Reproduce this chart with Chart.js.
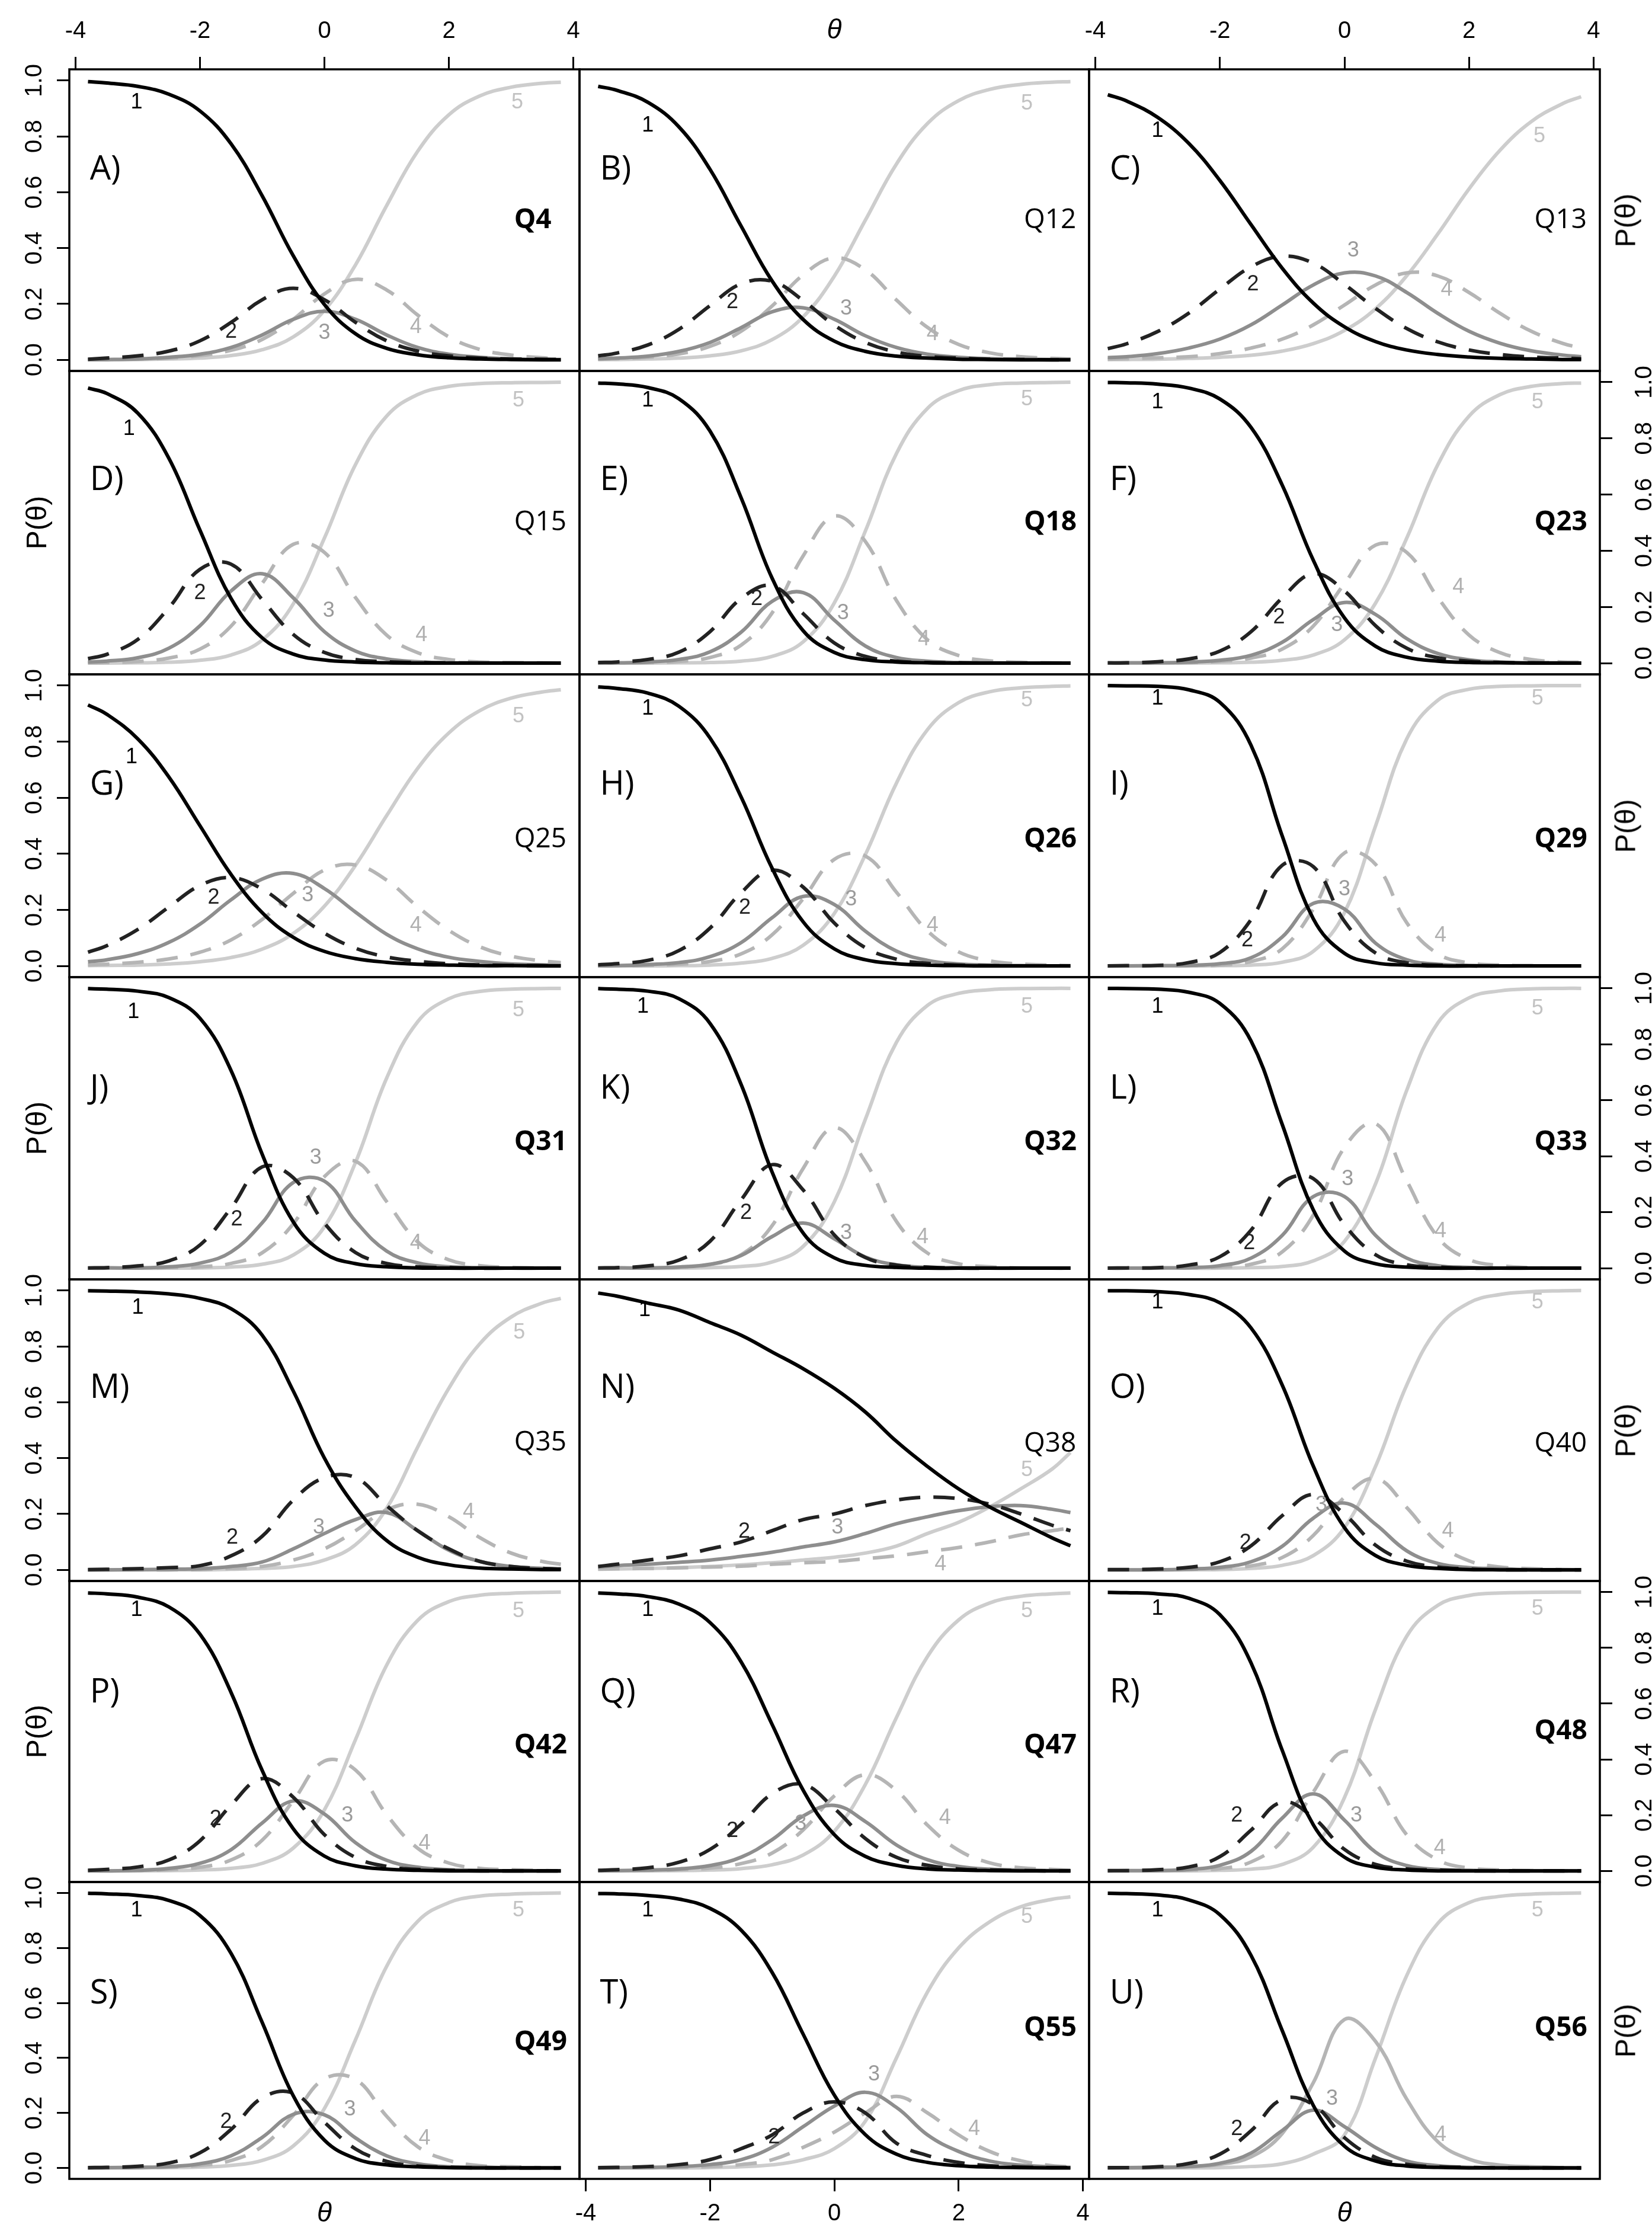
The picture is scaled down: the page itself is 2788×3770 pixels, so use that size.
<!DOCTYPE html>
<html>
<head>
<meta charset="utf-8">
<title>Category response curves</title>
<script src="https://cdn.jsdelivr.net/npm/chart.js@4.4.1/dist/chart.umd.min.js"></script>
<style>
  html, body { margin: 0; padding: 0; background: #fff; }
  body { position: relative; width: 2788px; height: 3770px; overflow: hidden; }
  canvas.panel { position: absolute; }
  .side-title {
    position: absolute; color: #000; white-space: nowrap;
    font: 48px "Liberation Sans", Arial, sans-serif;
    transform: translate(-50%, -50%) rotate(-90deg);
  }
</style>
</head>
<body>
<script>
var thetaGrid = [-3.8, -3.5, -3, -2.5, -2, -1.5, -1, -0.5, 0, 0.5, 1, 1.5, 2, 2.5, 3, 3.5, 3.8];
var categories = ['1', '2', '3', '4', '5'];
var panelLetters = ['A)', 'B)', 'C)', 'D)', 'E)', 'F)', 'G)', 'H)', 'I)', 'J)', 'K)', 'L)', 'M)', 'N)', 'O)', 'P)', 'Q)', 'R)', 'S)', 'T)', 'U)'];
var itemNames = ['Q4', 'Q12', 'Q13', 'Q15', 'Q18', 'Q23', 'Q25', 'Q26', 'Q29', 'Q31', 'Q32', 'Q33', 'Q35', 'Q38', 'Q40', 'Q42', 'Q47', 'Q48', 'Q49', 'Q55', 'Q56'];
var itemBold = [true, false, false, false, true, true, false, true, true, true, true, true, false, false, false, true, true, true, true, true, true];
var xTickValues = [-4, -2, 0, 2, 4];
var yTickValues = [0, 0.2, 0.4, 0.6, 0.8, 1];

// P(theta) for categories 1..5, one row per category
var probQ4 = [
  [0.996, 0.991, 0.979, 0.951, 0.891, 0.773, 0.587, 0.372, 0.198, 0.093, 0.041, 0.018, 0.007, 0.003, 0.001, 0, 0],
  [0.002, 0.006, 0.014, 0.031, 0.068, 0.134, 0.215, 0.256, 0.215, 0.134, 0.068, 0.031, 0.014, 0.006, 0.003, 0.002, 0.001],
  [0.001, 0.001, 0.003, 0.009, 0.020, 0.044, 0.089, 0.145, 0.174, 0.145, 0.089, 0.044, 0.020, 0.009, 0.003, 0.001, 0.001],
  [0.001, 0.002, 0.003, 0.006, 0.015, 0.034, 0.073, 0.145, 0.236, 0.288, 0.250, 0.160, 0.082, 0.037, 0.017, 0.007, 0.004],
  [0, 0, 0.001, 0.003, 0.006, 0.015, 0.036, 0.082, 0.177, 0.340, 0.552, 0.747, 0.877, 0.945, 0.976, 0.990, 0.994]
];
var probQ12 = [
  [0.979, 0.965, 0.922, 0.834, 0.682, 0.479, 0.282, 0.144, 0.067, 0.030, 0.013, 0.006, 0.002, 0.001, 0, 0, 0],
  [0.014, 0.024, 0.053, 0.109, 0.194, 0.272, 0.281, 0.212, 0.124, 0.062, 0.028, 0.012, 0.006, 0.002, 0.001, 0, 0],
  [0.004, 0.006, 0.013, 0.030, 0.062, 0.115, 0.172, 0.186, 0.145, 0.086, 0.044, 0.020, 0.009, 0.004, 0.002, 0.001, 0.001],
  [0.002, 0.004, 0.009, 0.021, 0.048, 0.102, 0.193, 0.304, 0.365, 0.322, 0.214, 0.116, 0.055, 0.025, 0.011, 0.005, 0.003],
  [0.001, 0.001, 0.003, 0.006, 0.014, 0.032, 0.072, 0.154, 0.299, 0.500, 0.701, 0.846, 0.928, 0.968, 0.986, 0.994, 0.996]
];
var probQ13 = [
  [0.949, 0.927, 0.868, 0.775, 0.642, 0.484, 0.328, 0.203, 0.118, 0.065, 0.035, 0.019, 0.010, 0.005, 0.003, 0.001, 0.001],
  [0.040, 0.057, 0.101, 0.167, 0.253, 0.333, 0.371, 0.346, 0.270, 0.184, 0.112, 0.064, 0.035, 0.019, 0.010, 0.006, 0.004],
  [0.008, 0.011, 0.022, 0.042, 0.074, 0.125, 0.196, 0.268, 0.311, 0.300, 0.241, 0.166, 0.102, 0.059, 0.032, 0.017, 0.011],
  [0.002, 0.004, 0.007, 0.011, 0.022, 0.042, 0.074, 0.125, 0.196, 0.268, 0.311, 0.300, 0.241, 0.166, 0.102, 0.059, 0.042],
  [0.001, 0.001, 0.002, 0.005, 0.009, 0.016, 0.031, 0.058, 0.105, 0.183, 0.301, 0.451, 0.612, 0.751, 0.853, 0.917, 0.942]
];
var probQ15 = [
  [0.979, 0.960, 0.890, 0.729, 0.473, 0.230, 0.090, 0.032, 0.011, 0.004, 0.001, 0, 0, 0, 0, 0, 0],
  [0.016, 0.031, 0.084, 0.197, 0.334, 0.352, 0.226, 0.102, 0.038, 0.013, 0.005, 0.002, 0.001, 0, 0, 0, 0],
  [0.004, 0.007, 0.019, 0.053, 0.133, 0.257, 0.318, 0.232, 0.112, 0.043, 0.015, 0.005, 0.001, 0.001, 0, 0, 0],
  [0.001, 0.002, 0.006, 0.018, 0.050, 0.132, 0.284, 0.423, 0.394, 0.233, 0.100, 0.037, 0.013, 0.004, 0.002, 0.001, 0],
  [0, 0, 0.001, 0.003, 0.010, 0.029, 0.082, 0.211, 0.445, 0.707, 0.879, 0.956, 0.985, 0.995, 0.998, 0.999, 1]
];
var probQ18 = [
  [0.997, 0.994, 0.981, 0.941, 0.826, 0.589, 0.302, 0.115, 0.038, 0.012, 0.004, 0.001, 0, 0, 0, 0, 0],
  [0.002, 0.004, 0.013, 0.039, 0.112, 0.230, 0.275, 0.176, 0.072, 0.024, 0.007, 0.002, 0.001, 0, 0, 0, 0],
  [0.001, 0.001, 0.004, 0.013, 0.040, 0.110, 0.220, 0.251, 0.153, 0.061, 0.020, 0.007, 0.002, 0.001, 0, 0, 0],
  [0, 0.001, 0.002, 0.006, 0.020, 0.064, 0.179, 0.382, 0.523, 0.433, 0.223, 0.083, 0.027, 0.008, 0.003, 0.001, 0],
  [0, 0, 0, 0.001, 0.002, 0.007, 0.024, 0.076, 0.214, 0.470, 0.746, 0.907, 0.970, 0.991, 0.997, 0.999, 1]
];
var probQ23 = [
  [0.999, 0.998, 0.993, 0.979, 0.940, 0.839, 0.634, 0.366, 0.161, 0.060, 0.021, 0.007, 0.002, 0.001, 0, 0, 0],
  [0.001, 0.001, 0.005, 0.015, 0.043, 0.112, 0.232, 0.318, 0.257, 0.133, 0.053, 0.019, 0.007, 0.002, 0.001, 0, 0],
  [0, 0.001, 0.001, 0.004, 0.010, 0.028, 0.074, 0.155, 0.216, 0.173, 0.087, 0.034, 0.012, 0.004, 0.001, 0.001, 0],
  [0, 0, 0.001, 0.002, 0.006, 0.018, 0.050, 0.132, 0.283, 0.420, 0.394, 0.233, 0.100, 0.037, 0.013, 0.004, 0.003],
  [0, 0, 0, 0, 0.001, 0.003, 0.010, 0.029, 0.083, 0.214, 0.445, 0.707, 0.879, 0.956, 0.985, 0.995, 0.997]
];
var probQ25 = [
  [0.931, 0.898, 0.810, 0.674, 0.500, 0.326, 0.190, 0.102, 0.052, 0.026, 0.013, 0.006, 0.003, 0.001, 0.001, 0, 0],
  [0.049, 0.072, 0.130, 0.210, 0.287, 0.315, 0.274, 0.193, 0.117, 0.063, 0.032, 0.017, 0.008, 0.004, 0.002, 0.001, 0.001],
  [0.015, 0.022, 0.044, 0.084, 0.149, 0.236, 0.310, 0.330, 0.276, 0.192, 0.113, 0.061, 0.031, 0.016, 0.007, 0.004, 0.002],
  [0.004, 0.006, 0.013, 0.025, 0.049, 0.093, 0.166, 0.259, 0.342, 0.360, 0.306, 0.211, 0.127, 0.068, 0.035, 0.018, 0.012],
  [0.001, 0.002, 0.003, 0.007, 0.015, 0.030, 0.060, 0.116, 0.213, 0.359, 0.536, 0.705, 0.831, 0.911, 0.955, 0.977, 0.985]
];
var probQ26 = [
  [0.995, 0.990, 0.973, 0.926, 0.813, 0.603, 0.348, 0.157, 0.061, 0.022, 0.008, 0.003, 0.001, 0, 0, 0, 0],
  [0.004, 0.008, 0.020, 0.055, 0.135, 0.261, 0.342, 0.281, 0.153, 0.065, 0.024, 0.009, 0.003, 0.001, 0, 0, 0],
  [0.001, 0.001, 0.005, 0.012, 0.033, 0.083, 0.172, 0.248, 0.219, 0.124, 0.053, 0.020, 0.007, 0.003, 0.001, 0, 0],
  [0, 0.001, 0.002, 0.006, 0.016, 0.043, 0.111, 0.240, 0.380, 0.392, 0.263, 0.125, 0.050, 0.018, 0.007, 0.003, 0.001],
  [0, 0, 0, 0.001, 0.003, 0.010, 0.027, 0.074, 0.187, 0.397, 0.652, 0.843, 0.939, 0.978, 0.992, 0.997, 0.999]
];
var probQ29 = [
  [1, 0.999, 0.997, 0.985, 0.940, 0.787, 0.464, 0.168, 0.045, 0.011, 0.003, 0, 0, 0, 0, 0, 0],
  [0, 0.001, 0.002, 0.012, 0.048, 0.165, 0.359, 0.354, 0.159, 0.046, 0.011, 0.003, 0, 0, 0, 0, 0],
  [0, 0, 0.001, 0.002, 0.008, 0.029, 0.103, 0.223, 0.203, 0.081, 0.022, 0.006, 0.002, 0, 0, 0, 0],
  [0, 0, 0, 0.001, 0.003, 0.016, 0.061, 0.203, 0.403, 0.362, 0.154, 0.043, 0.011, 0.003, 0.001, 0, 0],
  [0, 0, 0, 0, 0.001, 0.003, 0.013, 0.052, 0.190, 0.500, 0.810, 0.948, 0.987, 0.997, 0.999, 1, 1]
];
var probQ31 = [
  [0.999, 0.997, 0.990, 0.967, 0.893, 0.706, 0.407, 0.165, 0.053, 0.016, 0.005, 0.001, 0, 0, 0, 0, 0],
  [0.001, 0.002, 0.008, 0.026, 0.083, 0.215, 0.362, 0.323, 0.161, 0.056, 0.017, 0.005, 0.002, 0, 0, 0, 0],
  [0, 0.001, 0.001, 0.005, 0.018, 0.058, 0.162, 0.306, 0.311, 0.168, 0.061, 0.019, 0.005, 0.002, 0, 0, 0],
  [0, 0, 0.001, 0.002, 0.005, 0.017, 0.055, 0.159, 0.327, 0.382, 0.238, 0.094, 0.030, 0.009, 0.003, 0.001, 0],
  [0, 0, 0, 0, 0.001, 0.004, 0.014, 0.047, 0.148, 0.378, 0.679, 0.881, 0.963, 0.989, 0.997, 0.999, 1]
];
var probQ32 = [
  [0.999, 0.997, 0.990, 0.963, 0.875, 0.657, 0.343, 0.125, 0.037, 0.010, 0.003, 0, 0, 0, 0, 0, 0],
  [0.001, 0.002, 0.008, 0.029, 0.096, 0.244, 0.370, 0.279, 0.119, 0.038, 0.011, 0.004, 0, 0, 0, 0, 0],
  [0, 0.001, 0.001, 0.004, 0.014, 0.045, 0.113, 0.161, 0.105, 0.040, 0.012, 0.003, 0.002, 0, 0, 0, 0],
  [0, 0, 0.001, 0.004, 0.013, 0.048, 0.152, 0.357, 0.502, 0.380, 0.167, 0.054, 0.016, 0.005, 0.001, 0, 0],
  [0, 0, 0, 0, 0.002, 0.006, 0.022, 0.078, 0.237, 0.532, 0.807, 0.939, 0.982, 0.995, 0.999, 1, 1]
];
var probQ33 = [
  [1, 0.999, 0.997, 0.986, 0.946, 0.812, 0.514, 0.208, 0.061, 0.016, 0.004, 0, 0, 0, 0, 0, 0],
  [0, 0.001, 0.002, 0.011, 0.041, 0.136, 0.305, 0.320, 0.155, 0.048, 0.012, 0.004, 0, 0, 0, 0, 0],
  [0, 0, 0.001, 0.002, 0.009, 0.036, 0.117, 0.256, 0.256, 0.117, 0.036, 0.009, 0.003, 0, 0, 0, 0],
  [0, 0, 0, 0.001, 0.004, 0.014, 0.058, 0.190, 0.432, 0.517, 0.312, 0.110, 0.031, 0.009, 0.002, 0, 0],
  [0, 0, 0, 0, 0, 0.002, 0.006, 0.026, 0.096, 0.302, 0.636, 0.877, 0.966, 0.991, 0.998, 1, 1]
];
var probQ35 = [
  [0.999, 0.998, 0.995, 0.988, 0.972, 0.935, 0.840, 0.640, 0.400, 0.225, 0.105, 0.045, 0.018, 0.006, 0.003, 0.001, 0.001],
  [0.001, 0.002, 0.004, 0.008, 0.015, 0.050, 0.120, 0.250, 0.330, 0.330, 0.230, 0.140, 0.075, 0.030, 0.012, 0.005, 0.003],
  [0, 0, 0.001, 0.002, 0.004, 0.012, 0.028, 0.075, 0.130, 0.180, 0.205, 0.140, 0.070, 0.030, 0.012, 0.005, 0.003],
  [0, 0, 0, 0, 0.001, 0.005, 0.012, 0.035, 0.075, 0.140, 0.215, 0.235, 0.190, 0.115, 0.060, 0.030, 0.020],
  [0, 0, 0, 0, 0, 0.002, 0.005, 0.012, 0.035, 0.090, 0.220, 0.440, 0.650, 0.810, 0.905, 0.955, 0.972]
];
var probQ38 = [
  [0.991, 0.980, 0.955, 0.930, 0.885, 0.840, 0.780, 0.720, 0.650, 0.565, 0.460, 0.370, 0.290, 0.225, 0.170, 0.115, 0.086],
  [0.012, 0.020, 0.035, 0.050, 0.075, 0.100, 0.140, 0.180, 0.200, 0.230, 0.250, 0.260, 0.255, 0.235, 0.200, 0.160, 0.140],
  [0.010, 0.015, 0.020, 0.027, 0.035, 0.048, 0.063, 0.082, 0.100, 0.130, 0.165, 0.190, 0.212, 0.226, 0.230, 0.217, 0.205],
  [0.003, 0.004, 0.005, 0.007, 0.010, 0.013, 0.020, 0.025, 0.030, 0.040, 0.050, 0.065, 0.080, 0.100, 0.125, 0.140, 0.150],
  [0.002, 0.003, 0.005, 0.008, 0.012, 0.018, 0.025, 0.035, 0.045, 0.060, 0.085, 0.130, 0.170, 0.225, 0.290, 0.360, 0.420]
];
var probQ40 = [
  [0.999, 0.999, 0.996, 0.986, 0.956, 0.866, 0.662, 0.371, 0.151, 0.051, 0.016, 0.005, 0.001, 0, 0, 0, 0],
  [0.001, 0.001, 0.003, 0.009, 0.029, 0.086, 0.194, 0.270, 0.199, 0.088, 0.031, 0.010, 0.003, 0, 0, 0, 0],
  [0, 0, 0, 0.003, 0.009, 0.029, 0.084, 0.185, 0.239, 0.163, 0.068, 0.023, 0.008, 0.004, 0, 0, 0],
  [0, 0, 0.001, 0.002, 0.005, 0.014, 0.044, 0.123, 0.260, 0.327, 0.223, 0.096, 0.032, 0.010, 0.004, 0.001, 0],
  [0, 0, 0, 0, 0.001, 0.005, 0.016, 0.051, 0.151, 0.371, 0.662, 0.866, 0.956, 0.986, 0.996, 0.999, 1]
];
var probQ42 = [
  [0.997, 0.994, 0.982, 0.947, 0.849, 0.640, 0.360, 0.151, 0.053, 0.018, 0.006, 0.002, 0, 0, 0, 0, 0],
  [0.002, 0.005, 0.014, 0.039, 0.108, 0.236, 0.331, 0.264, 0.130, 0.048, 0.016, 0.005, 0.002, 0, 0, 0, 0],
  [0.001, 0, 0.002, 0.009, 0.027, 0.076, 0.172, 0.251, 0.204, 0.101, 0.038, 0.013, 0.004, 0.002, 0, 0, 0],
  [0, 0.001, 0.002, 0.004, 0.013, 0.039, 0.110, 0.252, 0.394, 0.362, 0.202, 0.081, 0.028, 0.009, 0.004, 0.001, 0],
  [0, 0, 0, 0.001, 0.003, 0.009, 0.027, 0.082, 0.219, 0.471, 0.738, 0.899, 0.966, 0.989, 0.996, 0.999, 1]
];
var probQ47 = [
  [0.997, 0.994, 0.984, 0.957, 0.891, 0.750, 0.525, 0.289, 0.130, 0.052, 0.020, 0.007, 0.003, 0.001, 0, 0, 0],
  [0.002, 0.004, 0.011, 0.031, 0.077, 0.167, 0.277, 0.310, 0.224, 0.116, 0.049, 0.020, 0.007, 0.003, 0.001, 0, 0],
  [0.001, 0.001, 0.003, 0.007, 0.019, 0.049, 0.112, 0.197, 0.235, 0.177, 0.093, 0.040, 0.016, 0.006, 0.003, 0.001, 0.001],
  [0, 0.001, 0.002, 0.004, 0.010, 0.026, 0.064, 0.147, 0.269, 0.345, 0.288, 0.164, 0.074, 0.029, 0.011, 0.005, 0.002],
  [0, 0, 0, 0.001, 0.003, 0.008, 0.022, 0.057, 0.142, 0.310, 0.550, 0.769, 0.900, 0.961, 0.985, 0.994, 0.997]
];
var probQ48 = [
  [0.999, 0.998, 0.994, 0.978, 0.919, 0.746, 0.433, 0.165, 0.049, 0.013, 0.003, 0, 0, 0, 0, 0, 0],
  [0.001, 0.001, 0.004, 0.014, 0.051, 0.146, 0.247, 0.191, 0.077, 0.023, 0.007, 0.003, 0, 0, 0, 0, 0],
  [0, 0.001, 0.001, 0.005, 0.020, 0.070, 0.189, 0.276, 0.182, 0.067, 0.019, 0.005, 0.002, 0, 0, 0, 0],
  [0, 0, 0.001, 0.003, 0.008, 0.032, 0.108, 0.283, 0.429, 0.317, 0.129, 0.039, 0.010, 0.003, 0.001, 0, 0],
  [0, 0, 0, 0, 0.002, 0.006, 0.023, 0.085, 0.263, 0.580, 0.842, 0.953, 0.988, 0.997, 0.999, 1, 1]
];
var probQ49 = [
  [0.999, 0.997, 0.991, 0.973, 0.918, 0.780, 0.529, 0.262, 0.101, 0.034, 0.011, 0.004, 0.001, 0, 0, 0, 0],
  [0.001, 0.002, 0.006, 0.018, 0.055, 0.140, 0.255, 0.272, 0.166, 0.069, 0.024, 0.007, 0.003, 0, 0, 0, 0],
  [0, 0.001, 0.002, 0.005, 0.015, 0.044, 0.111, 0.195, 0.193, 0.109, 0.044, 0.015, 0.004, 0.003, 0, 0, 0],
  [0, 0, 0.001, 0.003, 0.009, 0.027, 0.078, 0.191, 0.324, 0.322, 0.188, 0.077, 0.027, 0.008, 0.004, 0.001, 0],
  [0, 0, 0, 0.001, 0.003, 0.009, 0.027, 0.080, 0.216, 0.466, 0.733, 0.897, 0.965, 0.989, 0.996, 0.999, 1]
];
var probQ55 = [
  [0.998, 0.997, 0.991, 0.978, 0.944, 0.865, 0.711, 0.486, 0.265, 0.121, 0.050, 0.020, 0.008, 0.003, 0.001, 0, 0],
  [0.001, 0.002, 0.005, 0.012, 0.030, 0.070, 0.120, 0.200, 0.240, 0.200, 0.090, 0.045, 0.020, 0.008, 0.003, 0.001, 0.001],
  [0, 0.001, 0.002, 0.005, 0.012, 0.030, 0.075, 0.150, 0.225, 0.275, 0.220, 0.120, 0.060, 0.025, 0.010, 0.004, 0.002],
  [0, 0, 0.001, 0.002, 0.005, 0.012, 0.030, 0.075, 0.130, 0.200, 0.260, 0.200, 0.120, 0.060, 0.026, 0.008, 0.004],
  [0, 0, 0, 0, 0.001, 0.004, 0.011, 0.030, 0.070, 0.170, 0.400, 0.640, 0.800, 0.895, 0.950, 0.977, 0.986]
];
var probQ56 = [
  [0.999, 0.998, 0.993, 0.975, 0.921, 0.773, 0.500, 0.227, 0.079, 0.025, 0.007, 0.002, 0, 0, 0, 0, 0],
  [0.001, 0.001, 0.004, 0.016, 0.050, 0.135, 0.250, 0.230, 0.110, 0.038, 0.013, 0.004, 0.002, 0, 0, 0, 0],
  [0, 0.001, 0.002, 0.005, 0.017, 0.054, 0.136, 0.210, 0.150, 0.074, 0.025, 0.008, 0.002, 0.001, 0, 0, 0],
  [0, 0, 0.001, 0.004, 0.013, 0.040, 0.125, 0.310, 0.540, 0.460, 0.250, 0.095, 0.032, 0.010, 0.004, 0.001, 0],
  [0, 0, 0, 0, 0.001, 0.005, 0.015, 0.050, 0.120, 0.400, 0.700, 0.890, 0.965, 0.988, 0.996, 0.999, 1]
];

var panelProbs = [probQ4, probQ12, probQ13, probQ15, probQ18, probQ23, probQ25, probQ26, probQ29,
  probQ31, probQ32, probQ33, probQ35, probQ38, probQ40, probQ42, probQ47, probQ48, probQ49, probQ55, probQ56];

// where the category numbers sit, as (theta, P) pairs
var curveLabelAt = [
  [[-3.02, 0.92], [-1.5, 0.10], [0, 0.095], [1.47, 0.117], [3.1, 0.92]],
  [[-3.0, 0.838], [-1.64, 0.205], [0.19, 0.183], [1.58, 0.092], [3.1, 0.916]],
  [[-3.0, 0.82], [-1.47, 0.27], [0.14, 0.39], [1.64, 0.25], [3.13, 0.80]],
  [[-3.14, 0.834], [-2.0, 0.249], [0.07, 0.185], [1.56, 0.099], [3.12, 0.934]],
  [[-3.0, 0.934], [-1.25, 0.228], [0.14, 0.178], [1.44, 0.085], [3.1, 0.938]],
  [[-3.0, 0.927], [-1.05, 0.163], [-0.12, 0.135], [1.83, 0.27], [3.1, 0.927]],
  [[-3.1, 0.745], [-1.78, 0.244], [-0.27, 0.251], [1.47, 0.143], [3.12, 0.889]],
  [[-3.0, 0.918], [-1.44, 0.208], [0.27, 0.237], [1.58, 0.143], [3.1, 0.946]],
  [[-3.0, 0.953], [-1.56, 0.09], [0, 0.272], [1.54, 0.108], [3.1, 0.953]],
  [[-3.07, 0.914], [-1.41, 0.174], [-0.14, 0.393], [1.47, 0.088], [3.12, 0.921]],
  [[-3.08, 0.935], [-1.42, 0.196], [0.19, 0.124], [1.42, 0.11], [3.1, 0.935]],
  [[-3.0, 0.935], [-1.53, 0.088], [0.05, 0.318], [1.54, 0.131], [3.1, 0.928]],
  [[-3.0, 0.937], [-1.48, 0.114], [-0.09, 0.15], [2.32, 0.207], [3.13, 0.848]],
  [[-3.05, 0.93], [-1.45, 0.135], [0.05, 0.15], [1.71, 0.02], [3.1, 0.356]],
  [[-3.0, 0.957], [-1.59, 0.095], [-0.37, 0.231], [1.66, 0.138], [3.1, 0.957]],
  [[-3.02, 0.935], [-1.75, 0.186], [0.37, 0.197], [1.61, 0.097], [3.12, 0.932]],
  [[-3.0, 0.935], [-1.64, 0.143], [-0.54, 0.168], [1.78, 0.19], [3.1, 0.932]],
  [[-3.0, 0.939], [-1.73, 0.197], [0.19, 0.197], [1.53, 0.082], [3.1, 0.939]],
  [[-3.02, 0.937], [-1.58, 0.166], [0.41, 0.212], [1.61, 0.107], [3.12, 0.937]],
  [[-3.0, 0.937], [-0.97, 0.111], [0.64, 0.339], [2.25, 0.141], [3.1, 0.912]],
  [[-3.0, 0.937], [-1.73, 0.141], [-0.2, 0.25], [1.54, 0.12], [3.1, 0.937]]
];
var itemLabelP = [0.5, 0.5, 0.5, 0.5, 0.5, 0.5, 0.45, 0.45, 0.45, 0.45, 0.45, 0.45, 0.455, 0.45, 0.45, 0.45, 0.45, 0.5, 0.457, 0.507, 0.507];
var letterLabelP = [0.68, 0.65, 0.645, 0.64, 0.65, 0.638, 0.633];

// page layout (pixels)
var COL_X = [117, 978, 1838, 2700];
var ROW_Y = [117, 626, 1138, 1649, 2159, 2668, 3176, 3677];
var MARGIN = 115;
var LINE_COLORS = ['#000000', '#222222', '#8e8e8e', '#b5b5b5', '#cdcdcd'];
var TEXT_COLORS = ['#000000', '#222222', '#9a9a9a', '#b0b0b0', '#c2c2c2'];
var DASHES = [[], [36, 22], [], [36, 22], []];
var SOLID_CAT4 = ['Q56'];

Chart.defaults.font.family = '"Liberation Sans", Arial, sans-serif';
Chart.defaults.color = '#000';

function makeXAxis(position, showTicks, showTitle) {
    return {
        type: 'linear', position: position, min: -4.1, max: 4.1,
        afterBuildTicks: function(s) { s.ticks = xTickValues.map(function(v) { return { value: v }; }); },
        afterFit: function(s) { s.height = MARGIN; },
        border: { display: false },
        grid: { display: showTicks, drawOnChartArea: false, tickLength: 21, lineWidth: 3, color: '#000' },
        ticks: {
            display: showTicks, autoSkip: false, maxRotation: 0, color: '#000',
            padding: position === 'top' ? 19 : 14, font: { size: 40 },
            callback: function(v) { return String(v); }
        },
        title: {
            display: showTitle, text: 'θ', color: '#000',
            font: { size: 46, style: 'italic' }, padding: { top: 23, bottom: 28 }
        }
    };
}

function makeYAxis(position, showTicks, showTitle) {
    return {
        type: 'linear', position: position, min: -0.04, max: 1.04,
        afterBuildTicks: function(s) { s.ticks = yTickValues.map(function(v) { return { value: v }; }); },
        afterFit: function(s) { s.width = MARGIN; },
        border: { display: false },
        grid: { display: showTicks, drawOnChartArea: false, tickLength: 21, lineWidth: 3, color: '#000' },
        ticks: {
            display: showTicks, autoSkip: false, minRotation: 90, maxRotation: 90, crossAlign: 'center',
            padding: position === 'left' ? 9 : 27, color: '#000', font: { size: 40 },
            callback: function(v) { return v.toFixed(1); }
        },
        title: {
            display: showTitle, text: 'P(θ)', color: '#000',
            font: { size: 48 }, padding: { top: 34, bottom: 34 }
        }
    };
}

function makeDecor(idx, row) {
    return {
        id: 'panelDecor',
        afterDatasetsDraw: function(chart) {
            var ctx = chart.ctx, a = chart.chartArea;
            var xs = chart.scales.x, ys = chart.scales.y;
            ctx.save();
            ctx.textBaseline = 'middle';
            ctx.textAlign = 'center';
            ctx.font = '36px "Liberation Sans", Arial, sans-serif';
            curveLabelAt[idx].forEach(function(p, k) {
                ctx.fillStyle = TEXT_COLORS[k];
                ctx.fillText(categories[k], xs.getPixelForValue(p[0]), ys.getPixelForValue(p[1]));
            });
            ctx.fillStyle = '#000';
            ctx.textAlign = 'left';
            ctx.font = '56px "Open Sans", sans-serif';
            ctx.fillText(panelLetters[idx], xs.getPixelForValue(-3.77), ys.getPixelForValue(letterLabelP[row]));
            ctx.font = (itemBold[idx] ? 'bold ' : '') + '46px "Open Sans", sans-serif';
            ctx.fillText(itemNames[idx], xs.getPixelForValue(3.05), ys.getPixelForValue(itemLabelP[idx]));
            ctx.lineWidth = 3.5;
            ctx.strokeStyle = '#000';
            ctx.strokeRect(a.left, a.top, a.right - a.left, a.bottom - a.top);
            ctx.restore();
        }
    };
}

function buildPanel(idx) {
    var r = Math.floor(idx / 3), c = idx % 3;
    var left = COL_X[c], right = COL_X[c + 1], top = ROW_Y[r], bottom = ROW_Y[r + 1];
    var w = right - left + 2 * MARGIN, h = bottom - top + 2 * MARGIN;
    var canvas = document.createElement('canvas');
    canvas.className = 'panel';
    canvas.width = w;
    canvas.height = h;
    canvas.style.left = (left - MARGIN) + 'px';
    canvas.style.top = (top - MARGIN) + 'px';
    canvas.style.width = w + 'px';
    canvas.style.height = h + 'px';
    document.body.appendChild(canvas);

    var probs = panelProbs[idx];
    var datasets = categories.map(function(cat, k) {
        var dash = DASHES[k];
        if (k === 3 && SOLID_CAT4.indexOf(itemNames[idx]) >= 0) dash = [];
        return {
            label: cat,
            data: thetaGrid.map(function(t, i) { return { x: t, y: probs[k][i] }; }),
            borderColor: LINE_COLORS[k],
            borderWidth: 6,
            borderDash: dash,
            pointRadius: 0,
            tension: 0.4,
            fill: false
        };
    });

    new Chart(canvas, {
        type: 'line',
        data: { datasets: datasets },
        options: {
            responsive: false,
            animation: false,
            devicePixelRatio: 1,
            layout: { padding: 0, autoPadding: false },
            plugins: { legend: { display: false }, tooltip: { enabled: false } },
            scales: {
                x: makeXAxis('bottom', r === 6 && c === 1, r === 6 && c !== 1),
                x2: makeXAxis('top', r === 0 && c !== 1, r === 0 && c === 1),
                y: makeYAxis('left', c === 0 && r % 2 === 0, c === 0 && r % 2 === 1),
                y2: makeYAxis('right', c === 2 && r % 2 === 1, false)
            }
        },
        plugins: [makeDecor(idx, r)]
    });

    // right-hand P(theta) titles read bottom-to-top, like the left ones
    if (c === 2 && r % 2 === 0) {
        var t = document.createElement('div');
        t.className = 'side-title';
        t.textContent = 'P(θ)';
        t.style.left = '2743px';
        t.style.top = ((top + bottom) / 2) + 'px';
        document.body.appendChild(t);
    }
}

for (var i = 0; i < panelProbs.length; i++) buildPanel(i);
</script>
</body>
</html>
